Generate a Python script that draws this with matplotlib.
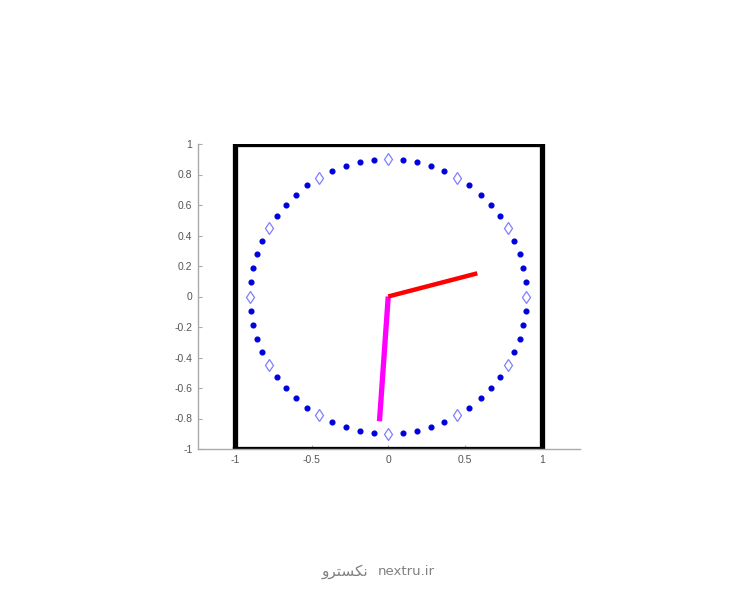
import numpy as np
import matplotlib
matplotlib.use("Agg")
import matplotlib.pyplot as plt

plt.rcParams['axes.unicode_minus'] = False
plt.rcParams['font.family'] = ['Liberation Sans', 'DejaVu Sans']

# Data
face_radius = 0.9
minute_marks = list(range(60))          # minute positions on dial
hour_marks = list(range(0, 60, 5))      # hour positions (diamonds)
time_h, time_m, time_s = 2, 30, 40      # time displayed
hour_hand_len = 0.6
minute_hand_len = 0.82
frame_x = [-1, -1, 1, 1, -1]
frame_y = [-1, 1, 1, -1, -1]
xticks = [-1, -0.5, 0, 0.5, 1]
xticklabels = ['-1', '-0.5', '0', '0.5', '1']
yticks = [-1, -0.8, -0.6, -0.4, -0.2, 0, 0.2, 0.4, 0.6, 0.8, 1]
yticklabels = ['-1', '-0.8', '-0.6', '-0.4', '-0.2', '0', '0.2', '0.4', '0.6', '0.8', '1']

fig = plt.figure(figsize=(7.54, 6.0), dpi=100)
ax = fig.add_axes([198/754, 151/600, 382/754, 305/600])

ax.plot(frame_x, frame_y, color='black', lw=3.8, solid_joinstyle='miter', zorder=2)

dots = [m for m in minute_marks if m % 5 != 0]
ang_d = np.deg2rad(90 - 6*np.array(dots))
ax.plot(face_radius*np.cos(ang_d), face_radius*np.sin(ang_d), 'o', color='#0000dd',
        ms=3.4, mec='#0000dd', zorder=3)
ang_h = np.deg2rad(90 - 6*np.array(hour_marks))
ax.plot(face_radius*np.cos(ang_h), face_radius*np.sin(ang_h), 'd', mfc='white',
        mec='#7f7fff', ms=6.2, mew=0.9, zorder=3)

m_total = time_m + time_s/60
min_ang = np.deg2rad(90 - 6*m_total)
hr_ang = np.deg2rad(90 - 30*(time_h + m_total/60))
ax.plot([0, minute_hand_len*np.cos(min_ang)], [0, minute_hand_len*np.sin(min_ang)],
        color='#ff00ff', lw=3.8, solid_capstyle='butt', zorder=4)
ax.plot([0, hour_hand_len*np.cos(hr_ang)], [0, hour_hand_len*np.sin(hr_ang)],
        color='#ff0000', lw=3.2, solid_capstyle='butt', zorder=5)

ax.set_xlim(-1.24, 1.25)
ax.set_ylim(-1, 1)
ax.set_xticks(xticks)
ax.set_xticklabels(xticklabels)
ax.set_yticks(yticks)
ax.set_yticklabels(yticklabels)
for s in ['top', 'right']:
    ax.spines[s].set_visible(False)
for s in ['left', 'bottom']:
    ax.spines[s].set_color('#aaaaaa')
    ax.spines[s].set_linewidth(1.0)
ax.tick_params(direction='in', length=3, width=0.8, color='#aaaaaa',
               labelsize=7.5, labelcolor='#555555', pad=4)
ax.set_facecolor('none')

# watermark
fig.text(0.501, 0.048, 'nextru.ir', ha='left', va='center', fontsize=9.5,
         color='#808080', family=['DejaVu Sans'])
fig.text(0.488, 0.048, '\uFEED\uFEAE\uFE98\uFEB4\uFB91\uFEE7', ha='right', va='center',
         fontsize=11, color='#808080', family=['DejaVu Sans'])

fig.savefig('out.png', dpi=100)
